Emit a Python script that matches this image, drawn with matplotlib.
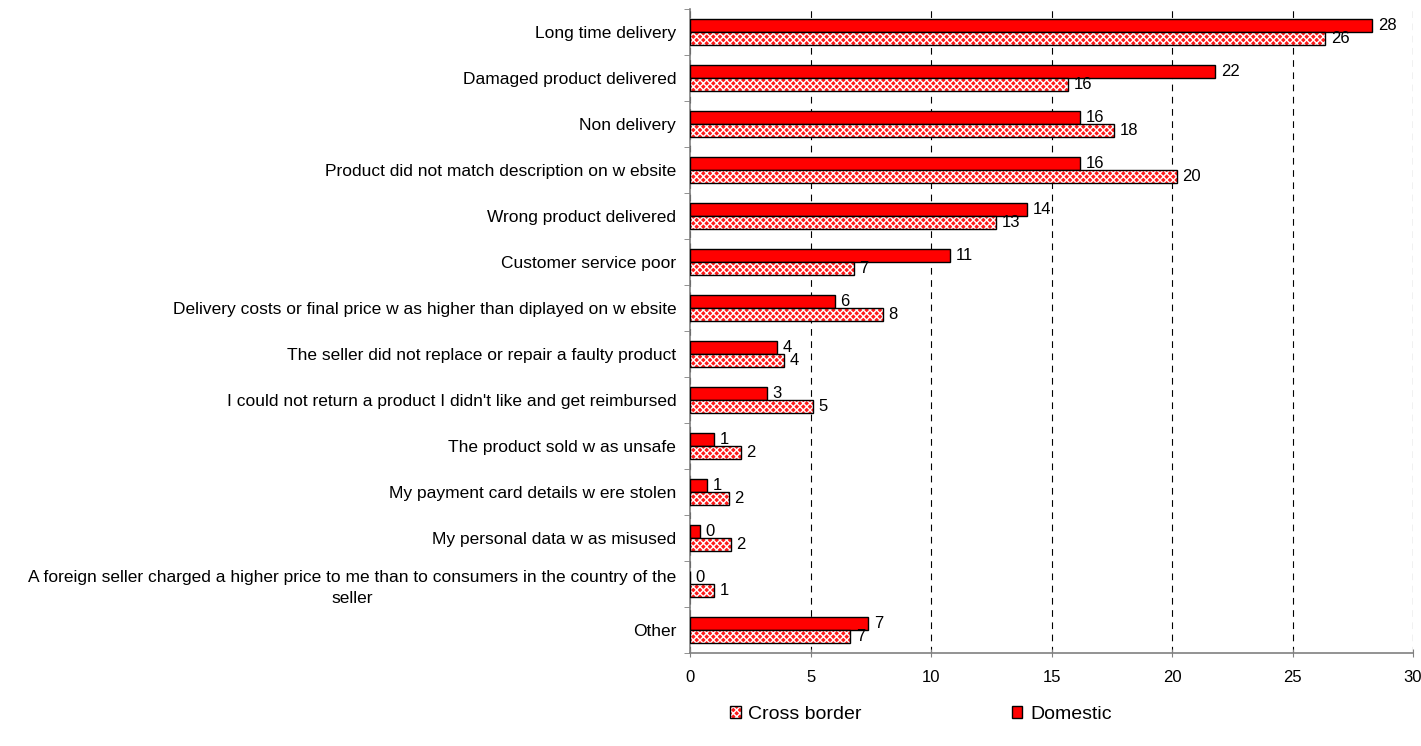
import matplotlib
matplotlib.use('Agg')
import matplotlib.pyplot as plt
import numpy as np

plt.rcParams['font.family'] = ['Liberation Sans', 'DejaVu Sans']

categories = ["Long time delivery",
              "Damaged product delivered",
              "Non delivery",
              "Product did not match description on w ebsite",
              "Wrong product delivered",
              "Customer service poor",
              "Delivery costs or final price w as higher than diplayed on w ebsite",
              "The seller did not replace or repair a faulty product",
              "I could not return a product I didn't like and get reimbursed",
              "The product sold w as unsafe",
              "My payment card details w ere stolen",
              "My personal data w as misused",
              "A foreign seller charged a higher price to me than to consumers in the country of the\nseller",
              "Other"]
domestic = [28.3, 21.8, 16.2, 16.2, 14.0, 10.8, 6.0, 3.6, 3.2, 1.0, 0.7, 0.4, 0.0, 7.4]
cross_border = [26.35, 15.7, 17.6, 20.2, 12.7, 6.8, 8.0, 3.9, 5.1, 2.1, 1.6, 1.7, 1.0, 6.65]
xticks = [0, 5, 10, 15, 20, 25, 30]

fig = plt.figure(figsize=(14.21, 7.46), dpi=100)
ax = fig.add_axes([0.4856, 0.1247, 0.5088, 0.8633])

y = np.arange(len(categories))
h = 0.28

# domestic: solid red, above the centre
dom_bars = ax.barh(y - h / 2, domestic, height=h, color='#ff0000', edgecolor='black',
                   linewidth=1.0, zorder=3)
# cross border: red with white hatch, below the centre
cb_fill = ax.barh(y + h / 2, cross_border, height=h, color='#ff1a1a', edgecolor='white',
                  hatch='xxxxx', linewidth=0, zorder=3)
cb_line = ax.barh(y + h / 2, cross_border, height=h, color='none', edgecolor='black',
                  linewidth=1.0, zorder=4)

for i in range(len(categories)):
    ax.annotate(f"{domestic[i]:.0f}", (domestic[i], y[i] - h / 2), xytext=(4, 0),
                textcoords='offset points', fontsize=12, va='center', ha='left', zorder=5)
    ax.annotate(f"{cross_border[i]:.0f}", (cross_border[i], y[i] + h / 2), xytext=(4, 0),
                textcoords='offset points', fontsize=12, va='center', ha='left', zorder=5)

ax.set_xlim(0, 30)
ax.set_ylim(len(categories) - 0.5, -0.5)
ax.set_xticks(xticks)
ax.set_xticklabels([str(t) for t in xticks], fontsize=12)
ax.set_yticks(y)
ax.set_yticklabels(categories, fontsize=12.5, multialignment='center')
for lab in ax.get_yticklabels():
    lab.set_linespacing(1.5)
ax.tick_params(axis='y', length=0, pad=10)
ax.set_yticks(np.arange(len(categories) + 1) - 0.5, minor=True)
ax.tick_params(axis='y', which='minor', length=4, color='#808080')
ax.tick_params(axis='x', length=6, direction='inout', color='#808080', pad=9)
ax.grid(axis='x', color='black', linestyle=(0, (6, 5)), linewidth=0.8, zorder=0)
ax.spines['top'].set_visible(False)
ax.spines['right'].set_visible(False)
ax.spines['left'].set_color('#808080')
ax.spines['bottom'].set_color('#808080')
ax.spines['left'].set_linewidth(1.2)
ax.spines['bottom'].set_linewidth(1.2)

leg = fig.legend([(cb_fill, cb_line), dom_bars], ['Cross border', 'Domestic'], loc='center',
                 bbox_to_anchor=(0.648, 0.042), ncol=2, frameon=False, fontsize=14,
                 handlelength=0.55, handleheight=0.55, columnspacing=7.7, handletextpad=0.4)

fig.savefig('out.png', dpi=100)
